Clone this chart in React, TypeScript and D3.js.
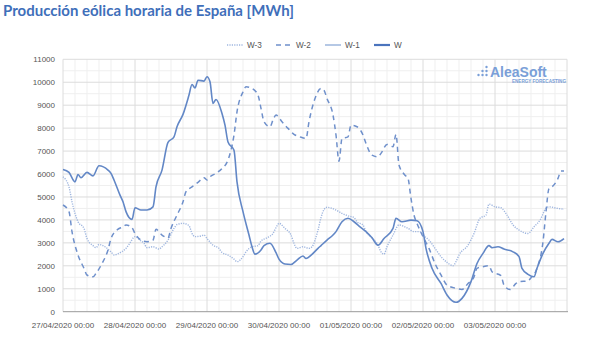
import React from 'react';
import * as d3 from 'd3';

const title = 'Producción eólica horaria de España [MWh]';
const dayLabels = [
  '27/04/2020 00:00', '28/04/2020 00:00', '29/04/2020 00:00', '30/04/2020 00:00',
  '01/05/2020 00:00', '02/05/2020 00:00', '03/05/2020 00:00',
];
const yTicks = [0, 1000, 2000, 3000, 4000, 5000, 6000, 7000, 8000, 9000, 10000, 11000];
const seriesNames = ['W-3', 'W-2', 'W-1', 'W'];

// [hour since 27/04/2020 00:00, MWh]
const w3: [number, number][] = [
  [0, 5880], [2, 5440], [3, 4790], [5, 3920], [7, 3630], [8, 3190], [10, 2880], [11, 2790], [12, 2930],
  [14, 2830], [16, 2610], [17, 2470], [19, 2570], [21, 2760], [22, 2930], [24, 3270], [26, 3080], [27, 2980],
  [28, 2790], [30, 2830], [32, 2730], [33, 2830], [35, 3120], [37, 3630], [38, 3800], [40, 3850], [42, 3750],
  [43, 3410], [44, 3270], [46, 3300], [47, 3340], [48, 3190], [50, 2900], [52, 2760], [53, 2580], [55, 2470],
  [57, 2290], [58, 2180], [60, 2400], [61, 2610], [63, 2830], [65, 2880], [66, 3080], [68, 3220], [70, 3410],
  [71, 3660], [72, 3850], [74, 3630], [76, 3340], [77, 2980], [78, 2760], [80, 2830], [82, 2760], [83, 2830],
  [85, 3560], [86, 4100], [87, 4450], [88, 4550], [91, 4430], [93, 4280], [95, 4180], [97, 4100], [98, 3920],
  [100, 3780], [101, 3490], [103, 3220], [105, 2900], [106, 2610], [107, 2510], [108, 2830], [110, 3340],
  [112, 3780], [115, 3630], [117, 3490], [119, 3490], [120, 3340], [122, 3120], [124, 2760], [126, 2400],
  [128, 2150], [130, 2000], [131, 2180], [132, 2470], [135, 2900], [137, 3410], [139, 4070], [141, 4210],
  [142, 4690], [144, 4570], [146, 4530], [148, 4210], [150, 3780], [152, 3560], [155, 3410], [157, 3700],
  [159, 3990], [161, 4500], [162, 4570], [165, 4500], [167, 4470],
];

const w2: [number, number][] = [
  [0, 4650], [2, 4360], [3, 3490], [5, 2470], [7, 1890], [8, 1600], [10, 1520], [11, 1670], [13, 2100],
  [15, 2690], [16, 3190], [18, 3560], [20, 3700], [21, 3780], [23, 3660], [24, 3410], [26, 3120], [28, 3050],
  [30, 3120], [31, 3590], [33, 3340], [35, 3220], [36, 3630], [38, 4210], [40, 4790], [41, 5230], [43, 5440],
  [45, 5640], [47, 5840], [48, 5740], [49, 5880], [51, 6030], [53, 6240], [55, 6610], [56, 7040], [57, 7700],
  [58, 8710], [60, 9580], [61, 9800], [63, 9730], [65, 9440], [66, 8860], [67, 8280], [69, 8060], [70, 8350],
  [71, 8570], [73, 8280], [75, 7990], [77, 7730], [79, 7620], [81, 7550], [82, 8280], [84, 9290], [86, 9730],
  [87, 9650], [88, 9290], [90, 8570], [91, 7700], [92, 6560], [93, 7550], [95, 7620], [96, 8130], [98, 8060],
  [100, 7700], [101, 7330], [103, 6820], [105, 6750], [106, 6900], [108, 7290], [110, 7190], [111, 7730],
  [112, 6390], [114, 5950], [115, 5810], [116, 4940], [117, 4210], [118, 3850], [120, 3270], [122, 2760],
  [124, 2100], [126, 1600], [128, 1160], [131, 1020], [133, 970], [135, 1230], [137, 1520], [138, 1890],
  [140, 1960], [142, 2000], [143, 1740], [146, 1570], [147, 1160], [149, 970], [151, 1230], [152, 1310],
  [155, 1340], [156, 1480], [158, 1890], [160, 3050], [161, 4360], [162, 5370], [163, 5440], [165, 5810],
  [166, 6130], [167, 6130],
];

// W-1 is listed in the legend but no separate line is visible in the reference
const w1: [number, number][] = [];

const w: [number, number][] = [
  [0, 6200], [2, 6070], [4, 5660], [5, 5980], [6, 5840], [8, 6070], [10, 5920], [12, 6360], [15, 6170],
  [16, 6030], [17, 5740], [19, 5080], [20, 4790], [21, 4360], [23, 4020], [24, 4530], [26, 4430], [28, 4430],
  [30, 4570], [31, 5440], [33, 6170], [35, 7380], [37, 7620], [38, 8060], [40, 8600], [42, 9440], [43, 9900],
  [44, 9750], [45, 10090], [47, 10050], [48, 10240], [49, 10020], [50, 9080], [51, 9250], [53, 8640],
  [54, 8130], [55, 7400], [57, 7040], [58, 5660], [60, 4360], [62, 3340], [63, 2830], [64, 2510], [66, 2690],
  [67, 2880], [69, 2980], [71, 2570], [72, 2290], [74, 2080], [76, 2060], [78, 2250], [80, 2430], [81, 2320],
  [83, 2500], [85, 2760], [86, 2880], [88, 3120], [90, 3340], [91, 3490], [93, 3920], [95, 4070], [97, 3920],
  [99, 3700], [101, 3490], [103, 3220], [105, 2900], [107, 3190], [110, 3630], [111, 4070], [113, 3920],
  [116, 3990], [118, 3960], [120, 3490], [121, 2760], [123, 1890], [126, 1230], [128, 730], [131, 410],
  [133, 580], [136, 1310], [138, 2100], [140, 2540], [142, 2880], [143, 2790], [145, 2830], [147, 2730],
  [150, 2610], [152, 2400], [153, 1890], [155, 1630], [157, 1520], [158, 1890], [160, 2540], [162, 2980],
  [163, 3150], [165, 3050], [167, 3190],
];

const seriesData = [w3, w2, w1, w];
const seriesStyle = [
  { color: '#9fb6df', width: 1.4, dash: '1.2,1.2' },
  { color: '#6f90cb', width: 1.5, dash: '5,4' },
  { color: '#a3badf', width: 1.6, dash: '' },
  { color: '#6287c6', width: 1.6, dash: '' },
];

const W = 600;
const H = 347;
const M = { left: 63, right: 567, top: 59.3, bottom: 311.7 };

export default function App() {
  const x = d3.scaleLinear().domain([0, 168]).range([M.left, M.right]);
  const y = d3.scaleLinear().domain([0, 11000]).range([M.bottom, M.top]);
  const line = d3
    .line<[number, number]>()
    .x((d) => x(d[0]))
    .y((d) => y(d[1]))
    .curve(d3.curveMonotoneX);

  const minorH = d3.range(500, 11000, 1000);
  const minorV = d3.range(0, 169, 4).filter((h) => h % 24 !== 0);
  const majorV = d3.range(0, 169, 24);

  const legendX = [227, 276, 325, 374];
  const legendY = 45;
  const axisFont = "'Liberation Sans', Arial, sans-serif";

  return (
    <svg
      width={W}
      height={H}
      style={{ position: 'absolute', left: 0, top: 0, background: '#fff' }}
      fontFamily={axisFont}
    >
      <text x={3} y={15.5} fontFamily="Lato, sans-serif" fontWeight={700} fontSize={15} fill="#3f6fba">
        {title}
      </text>

      {/* grid */}
      {minorH.map((v) => (
        <line key={'mh' + v} x1={M.left} x2={M.right} y1={y(v)} y2={y(v)} stroke="#efefef" strokeWidth={1} />
      ))}
      {minorV.map((h) => (
        <line key={'mv' + h} x1={x(h)} x2={x(h)} y1={M.top} y2={M.bottom} stroke="#efefef" strokeWidth={1} />
      ))}
      {yTicks.filter((v) => v > 0).map((v) => (
        <line key={'gh' + v} x1={M.left} x2={M.right} y1={y(v)} y2={y(v)} stroke="#dcdcdc" strokeWidth={1} />
      ))}
      {majorV.map((h) => (
        <line key={'gv' + h} x1={x(h)} x2={x(h)} y1={M.top} y2={M.bottom} stroke="#dcdcdc" strokeWidth={1} />
      ))}
      <line x1={M.left} x2={M.right + 1} y1={y(0)} y2={y(0)} stroke="#9a9a9a" strokeWidth={1} />

      {/* y labels */}
      {yTicks.map((v) => (
        <text key={'yl' + v} x={55} y={y(v) + 3} textAnchor="end" fontSize={8} fill="#555">
          {v}
        </text>
      ))}
      {/* x labels */}
      {dayLabels.map((l, i) => (
        <text key={'xl' + i} x={x(i * 24)} y={328} textAnchor="middle" fontSize={8} fill="#555">
          {l}
        </text>
      ))}

      {/* logo */}
      <g fill="#7a9fd8">
        <circle cx={478.5} cy={75} r={1.2} />
        <circle cx={482.5} cy={75} r={1.2} />
        <circle cx={482.5} cy={71} r={1.2} />
        <circle cx={486.5} cy={75} r={1.2} />
        <circle cx={486.5} cy={71} r={1.2} />
        <circle cx={486.5} cy={67} r={1.2} />
        <text x={490} y={77} fontFamily="'Liberation Sans', Arial, sans-serif" fontWeight={700} fontSize={14}>
          AleaSoft
        </text>
        <text x={566} y={82.5} textAnchor="end" fontFamily="'Liberation Sans', Arial, sans-serif" fontWeight={700} fontSize={4.6}>
          ENERGY FORECASTING
        </text>
      </g>

      {/* series */}
      {seriesData.map((d, i) =>
        d.length > 1 ? (
          <path
            key={'s' + i}
            d={line(d) || ''}
            fill="none"
            stroke={seriesStyle[i].color}
            strokeWidth={seriesStyle[i].width}
            strokeDasharray={seriesStyle[i].dash || undefined}
            strokeLinejoin="round"
          />
        ) : null
      )}

      {/* legend */}
      {seriesNames.map((n, i) => (
        <g key={'lg' + i}>
          <line
            x1={legendX[i]}
            x2={legendX[i] + 16}
            y1={legendY}
            y2={legendY}
            stroke={i === 3 ? '#4a74bd' : seriesStyle[i].color}
            strokeWidth={i === 3 ? 2.2 : 1.6}
            strokeDasharray={seriesStyle[i].dash || undefined}
          />
          <text x={legendX[i] + 20} y={legendY + 3} fontSize={8.2} fill="#555">
            {n}
          </text>
        </g>
      ))}
    </svg>
  );
}
